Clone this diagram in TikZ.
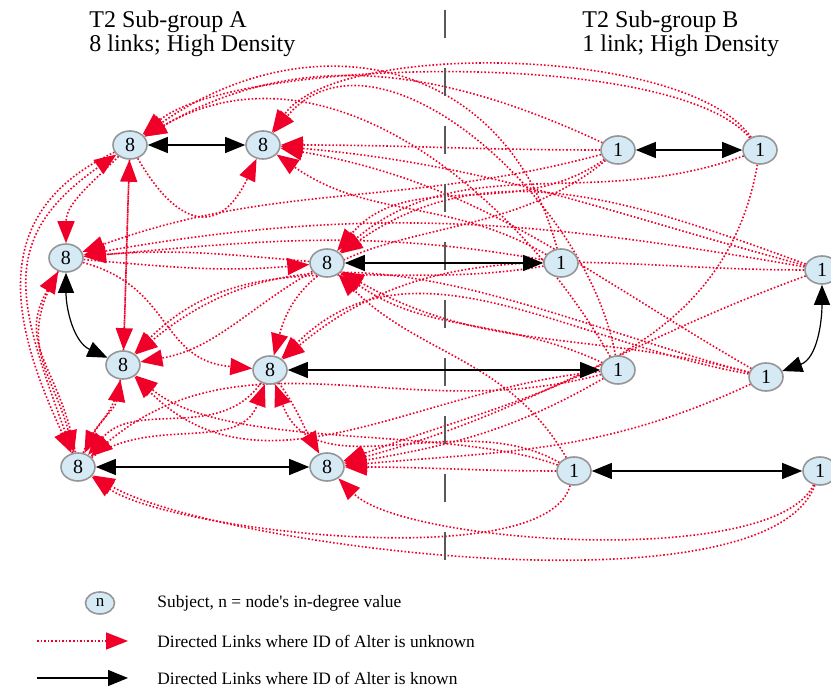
\documentclass[tikz,border=0pt]{standalone}
\usepackage{fontspec}
\setmainfont{Liberation Serif}
\usetikzlibrary{arrows.meta,shapes.geometric}
\definecolor{nodeblue}{RGB}{214,234,246}
\definecolor{nodeedge}{RGB}{150,150,150}
\definecolor{linkred}{RGB}{240,0,40}
\pgfdeclarelayer{bg}
\pgfsetlayers{bg,main}

\begin{document}
\begin{tikzpicture}[x=0.5pt, y=0.5pt,
  subject/.style={ellipse, draw=nodeedge, line width=0.8pt, fill=nodeblue, inner sep=0pt, minimum width=17pt, minimum height=14pt, font=\fontsize{10}{10}\selectfont},
  unk/.style={linkred, line width=0.8pt, dash pattern=on 0.8pt off 1pt, -{Triangle[length=11pt,width=8.5pt]}},
  known/.style={black, line width=0.6pt, {Triangle[length=10pt,width=8pt]}-{Triangle[length=10pt,width=8pt]}},
  divider/.style={black!65, line width=0.75pt, dash pattern=on 14pt off 15pt},
  legendtext/.style={anchor=west, inner sep=0pt, font=\fontsize{8.7}{10}\selectfont},
  grouptitle/.style={anchor=north west, align=left, inner sep=0pt, font=\fontsize{12}{12}\selectfont}]
\useasboundingbox (0,0) rectangle (831,690);
\clip (0,0) rectangle (831,690);

% Headers
\node[grouptitle] (ttla) at (89,680) {T2 Sub-group A\\8 links; High Density};
\node[grouptitle] (ttlb) at (582,680) {T2 Sub-group B\\1 link; High Density};

% Divider
\coordinate (divtop) at (445,680);
\coordinate (divbot) at (445,108);
\draw[divider] (divtop) -- (divbot);

% Sub-group A
\foreach \n/\x/\y in {a1/130/545, a2/263/545, a3/66/432, a4/327/427, a5/123/325, a6/270/320, a7/78/223, a8/327/223}
	\node[subject] (\n) at (\x,\y) {8};

% Sub-group B
\foreach \n/\x/\y in {b1/618/540, b2/760/540, b3/561/427, b4/822/420, b5/618/320, b6/766/313, b7/574/219, b8/820/219}
	\node[subject] (\n) at (\x,\y) {1};

% Known links
\draw[known] (a1) -- (a2);
\draw[known] (a4) -- (b3);
\draw[known] (a6) -- (b5);
\draw[known] (a7) -- (a8);
\draw[known] (b1) -- (b2);
\draw[known] (b7) -- (b8);
\draw[known] (a3) to[out=-90, in=155] (a5);
\draw[known] (b4) to[out=-90, in=20] (b6);

% Unknown links
\begin{pgfonlayer}{bg}
\foreach \src/\dst/\ao/\ai/\lo in {
	a5/a1/88/-92/1, b3/a1/105/35/1.2, b1/a1/155/30/1, b2/a1/130/40/0.5, b5/a1/120/30/1, a7/a1/110/215/1.3,
	a1/a2/-60/-115/1.8, b1/a2/180/0/1, b4/a2/165/-5/1, b6/a2/150/-10/1, b2/a2/125/55/0.6, b5/a2/100/50/1, b3/a2/150/-35/1,
	a1/a3/225/90/1, a4/a3/175/5/1, b3/a3/170/5/1, b4/a3/170/10/1, b1/a3/195/20/1, a7/a3/100/240/1.2,
	a3/a4/-5/185/1, b2/a4/200/40/1, b4/a4/160/35/1, b1/a4/215/50/1, b5/a4/155/-35/1, b6/a4/165/-30/1, b7/a4/120/-45/1,
	a1/a5/-92/88/1, b6/a5/165/40/1, a4/a5/210/10/1, a7/a5/70/-100/1, b7/a5/160/-40/0.7, b5/a5/185/-45/1, b3/a5/190/45/1,
	a3/a6/-15/175/1.2, b1/a6/220/75/1, b4/a6/180/40/1, b6/a6/170/45/1, a7/a6/35/-110/1, b7/a6/150/-70/1,
	a1/a7/205/115/1.2, a3/a7/240/105/1.2, a6/a7/-125/50/1, a5/a7/-100/65/1, b7/a7/-105/-35/0.5, b8/a7/-110/-30/0.5, b5/a7/195/40/1,
	a6/a8/-55/120/1, b7/a8/180/0/1, b5/a8/210/10/1, b6/a8/205/5/1, b4/a8/200/15/1, b8/a8/-115/-45/0.5, b2/a8/-100/20/1}
	\draw[unk] (\src) to[out=\ao, in=\ai, looseness=\lo] (\dst);
\end{pgfonlayer}

% Legend
\node[subject, minimum width=14.5pt, minimum height=11pt, font=\fontsize{8.5}{10}\selectfont] (lgnode) at (100,87) {n};
\node[legendtext] (lgsubj) at (157,87) {Subject, n = node\textquotesingle s in-degree value};
\coordinate (unka) at (37,49);
\coordinate (unkb) at (128,49);
\draw[unk] (unka) -- (unkb);
\node[legendtext] (lgunk) at (157,49) {Directed Links where ID of Alter is unknown};
\coordinate (kna) at (37,12);
\coordinate (knb) at (128,12);
\draw[black, line width=0.6pt, -{Triangle[length=10pt,width=8pt]}] (kna) -- (knb);
\node[legendtext] (lgkn) at (157,12) {Directed Links where ID of Alter is known};
\end{tikzpicture}
\end{document}
